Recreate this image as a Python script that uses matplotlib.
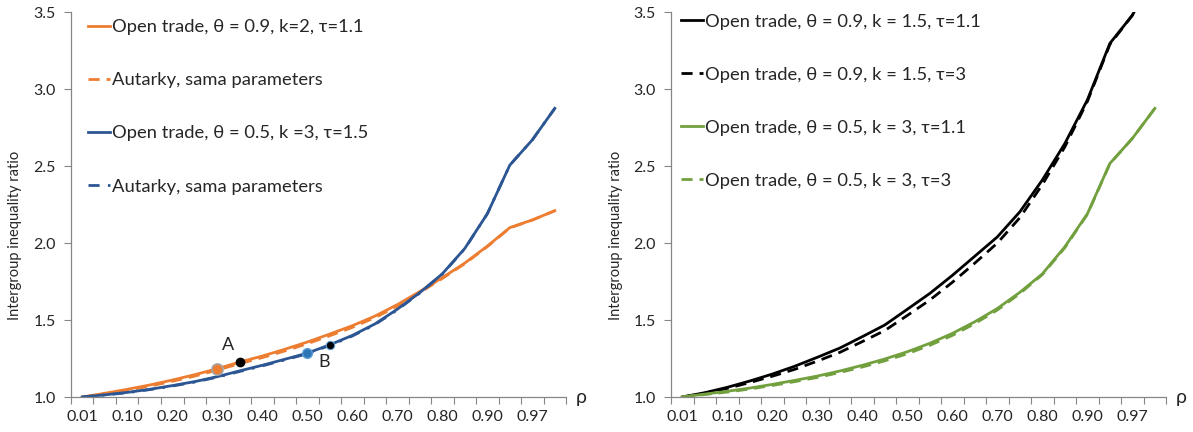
import numpy as np
import matplotlib
matplotlib.use("Agg")
import matplotlib.pyplot as plt

plt.rcParams['font.family'] = ['Lato', 'DejaVu Sans']

# categories (rho), labels every second category
rho = ["0.01", "0.05", "0.10", "0.15", "0.20", "0.25", "0.30", "0.35", "0.40", "0.45", "0.50",
       "0.55", "0.60", "0.65", "0.70", "0.75", "0.80", "0.85", "0.90", "0.95", "0.97", "0.99"]
tick_labels = rho[::2]

# left panel
open_09_k2 = [1.00, 1.024, 1.05, 1.078, 1.11, 1.145, 1.184, 1.227, 1.266, 1.31, 1.357,
              1.409, 1.463, 1.525, 1.60, 1.685, 1.775, 1.87, 1.98, 2.10, 2.15, 2.21]
aut_09_k2 = [1.00, 1.02, 1.044, 1.071, 1.102, 1.136, 1.175, 1.217, 1.256, 1.299, 1.346,
             1.398, 1.452, 1.515, 1.59, 1.678, 1.77, 1.866, 1.977, 2.098, 2.149, 2.21]
open_05_k3 = [1.00, 1.014, 1.03, 1.05, 1.074, 1.10, 1.132, 1.17, 1.206, 1.245, 1.285,
              1.339, 1.40, 1.474, 1.57, 1.678, 1.80, 1.965, 2.19, 2.506, 2.67, 2.875]
aut_05_k3 = [1.00, 1.013, 1.028, 1.048, 1.071, 1.097, 1.129, 1.166, 1.202, 1.241, 1.281,
             1.335, 1.396, 1.47, 1.566, 1.675, 1.798, 1.963, 2.19, 2.506, 2.67, 2.875]

# right panel
open_09_k15_t11 = [1.00, 1.028, 1.063, 1.104, 1.149, 1.20, 1.258, 1.318, 1.392, 1.468, 1.57,
                   1.673, 1.79, 1.915, 2.04, 2.203, 2.41, 2.647, 2.93, 3.297, 3.48, 3.75]
open_09_k15_t3 = [1.00, 1.025, 1.056, 1.094, 1.135, 1.18, 1.233, 1.29, 1.36, 1.432, 1.53,
                  1.63, 1.745, 1.87, 2.00, 2.165, 2.38, 2.625, 2.92, 3.29, 3.48, 3.75]
open_05_k3_t11 = [1.00, 1.019, 1.037, 1.058, 1.082, 1.108, 1.136, 1.169, 1.206, 1.247, 1.294,
                  1.349, 1.413, 1.489, 1.575, 1.68, 1.80, 1.976, 2.19, 2.517, 2.68, 2.875]
open_05_k3_t3 = [1.00, 1.016, 1.032, 1.052, 1.075, 1.10, 1.127, 1.159, 1.195, 1.235, 1.281,
                 1.336, 1.40, 1.477, 1.565, 1.672, 1.795, 1.97, 2.187, 2.515, 2.68, 2.875]

# highlighted points (category index)
pt_A = 6
pt_A2 = 7
pt_B = 10
pt_B2 = 11

orange = "#ED7D31"
blue = "#2C5693"
green = "#72A03E"
gray = "#868686"
txt = "#262626"

x = np.arange(len(rho))

fig = plt.figure(figsize=(11.93, 4.32), dpi=100)
ax1 = fig.add_axes([0.0595, 0.081, 0.415, 0.891])
ax2 = fig.add_axes([0.5625, 0.081, 0.415, 0.891])

ax1.plot(x, open_09_k2, color=orange, lw=2, label="Open trade, θ = 0.9, k=2, τ=1.1")
ax1.plot(x, aut_09_k2, color=orange, lw=2, dashes=(4, 2.5), label="Autarky, sama parameters")
ax1.plot(x, open_05_k3, color=blue, lw=2, label="Open trade, θ = 0.5, k =3, τ=1.5")
ax1.plot(x, aut_05_k3, color=blue, lw=2, dashes=(4, 3, 1, 3), label="Autarky, sama parameters")

ax1.plot(x[pt_A], open_09_k2[pt_A], "o", ms=8, mfc=orange, mec="#A5A5A5", mew=1.2)
ax1.plot(x[pt_A2], open_09_k2[pt_A2], "o", ms=6, color="black")
ax1.plot(x[pt_B], open_05_k3[pt_B], "o", ms=7, mfc="#2E75B6", mec="#5B9BD5", mew=1)
ax1.plot(x[pt_B2], open_05_k3[pt_B2], "o", ms=6, mfc="black", mec="#5B9BD5", mew=0.8)
ax1.text(6.48, 1.338, "A", fontsize=13, color=txt, ha="center", va="center")
ax1.text(10.74, 1.227, "B", fontsize=13, color=txt, ha="center", va="center")

ax2.plot(x, open_09_k15_t11, color="black", lw=2, label="Open trade, θ = 0.9, k = 1.5, τ=1.1")
ax2.plot(x, open_09_k15_t3, color="black", lw=2, dashes=(4, 2.5), label="Open trade, θ = 0.9, k = 1.5, τ=3")
ax2.plot(x, open_05_k3_t11, color=green, lw=2, label="Open trade, θ = 0.5, k = 3, τ=1.1")
ax2.plot(x, open_05_k3_t3, color=green, lw=2, dashes=(4, 2.5), label="Open trade, θ = 0.5, k = 3, τ=3")

for ax in (ax1, ax2):
    ax.set_xlim(-0.5, len(rho) - 0.5)
    ax.set_ylim(1.0, 3.5)
    ax.set_yticks([1.0, 1.5, 2.0, 2.5, 3.0, 3.5])
    ax.set_yticklabels(["1.0", "1.5", "2.0", "2.5", "3.0", "3.5"])
    ax.set_xticks(x[::2])
    ax.set_xticklabels(tick_labels)
    ax.set_xticks(np.arange(-0.5, len(rho)), minor=True)
    ax.tick_params(axis="x", which="major", length=0, pad=9, labelsize=11.5, labelcolor=txt)
    ax.tick_params(axis="x", which="minor", length=5, color=gray, width=0.8)
    ax.tick_params(axis="y", length=5, color=gray, width=0.8, labelsize=11.5, labelcolor=txt, pad=6)
    for s in ("top", "right"):
        ax.spines[s].set_visible(False)
    for s in ("left", "bottom"):
        ax.spines[s].set_color(gray)
        ax.spines[s].set_linewidth(0.9)
    ax.set_ylabel("Intergroup inequality ratio", fontsize=10.5, color=txt)
    ax.yaxis.set_label_coords(-0.098, 0.42)
    ax.text(1.02, 0.0, "ρ", transform=ax.transAxes, fontsize=14, color=txt, ha="left", va="center")
    leg = ax.legend(loc="upper left", bbox_to_anchor=(0.019, 1.0), frameon=False, fontsize=13.2,
                    labelspacing=2.02, handlelength=1.2, handletextpad=0.1, borderaxespad=0.0)
    for t in leg.get_texts():
        t.set_color(txt)

ax2.legend_.set_bbox_to_anchor((0.006, 1.015))

fig.savefig("out.png", dpi=100)
